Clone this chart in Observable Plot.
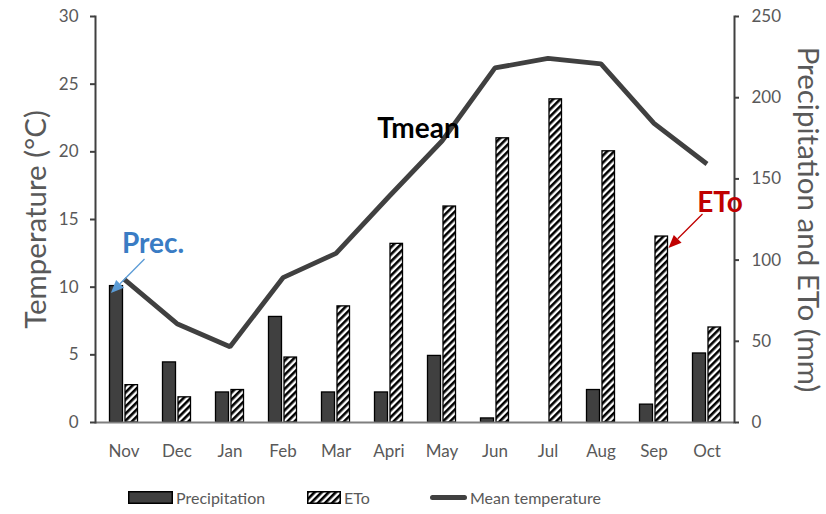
<!DOCTYPE html>
<html>
<head>
<meta charset="utf-8">
<script src="https://cdn.jsdelivr.net/npm/d3@7"></script>
<script src="https://cdn.jsdelivr.net/npm/@observablehq/plot@0.6"></script>
<style>
  html, body { margin: 0; padding: 0; background: #fff; }
  body { width: 826px; height: 514px; overflow: hidden; font-family: Lato, sans-serif; }
  #legend { position: relative; height: 44px; width: 826px; }
  #legend .item { position: absolute; top: 18px; display: flex; align-items: center; font-size: 16px; color: #595959; }
  #legend svg { display: block; margin-right: 3px; }
</style>
</head>
<body>
<div id="chart"></div>
<div id="legend">
  <div class="item" style="left:128px"><svg width="45" height="13"><rect x="0.75" y="0.75" width="43.5" height="11.5" fill="#404040" stroke="#000" stroke-width="1.5"/></svg>Precipitation</div>
  <div class="item" style="left:307px"><svg width="34" height="13"><defs><pattern id="hatchL" patternUnits="userSpaceOnUse" width="5" height="5" patternTransform="rotate(45)"><rect width="5" height="5" fill="#fff"/><rect width="2.6" height="5" fill="#000"/></pattern></defs><rect x="0.75" y="0.75" width="32.5" height="11.5" fill="url(#hatchL)" stroke="#000" stroke-width="1.5"/></svg>ETo</div>
  <div class="item" style="left:430px"><svg width="37" height="13"><line x1="2.5" y1="6.5" x2="34.5" y2="6.5" stroke="#404040" stroke-width="5" stroke-linecap="round"/></svg>Mean temperature</div>
</div>
<script>
const months = ["Nov","Dec","Jan","Feb","Mar","Apri","May","Jun","Jul","Aug","Sep","Oct"];
const tmean  = [10.6, 7.3, 5.6, 10.7, 12.5, 16.7, 20.8, 26.2, 26.9, 26.5, 22.1, 19.1];
const precip = [84, 37, 18.5, 65, 18.5, 18.5, 41, 2.5, 0, 20, 11, 42.5];
const eto    = [23, 15.5, 20, 40, 71.5, 110, 133, 175, 199, 167, 114.5, 58.5];
const tempTicks = [0, 5, 10, 15, 20, 25, 30];
const mmTicks = [0, 50, 100, 150, 200, 250];
const labels = [
  {text: "Prec.", month: "Nov", dx: 29, y: 13.2, color: "#3a7cc4"},
  {text: "Tmean", month: "May", dx: -23.5, y: 21.65, color: "#000000"},
  {text: "ETo", month: "Sep", dx: 66, y: 16.2, color: "#c00000"}
];
const arrows = [
  {month: "Nov", dx1: 21, y1: 12.05, dx2: -12.6, y2: 9.53, color: "#5b9bd5"},
  {month: "Sep", dx1: 49, y1: 15.37, dx2: 15, y2: 12.86, color: "#c00000"}
];

const MM_MAX = 250, T_MAX = 30;
const k = T_MAX / MM_MAX; // mm -> temperature axis units

const data = months.map((m, i) => ({month: m, t: tmean[i], p: precip[i] * k, e: eto[i] * k}));

const chart = Plot.plot({
  width: 826,
  height: 470,
  marginTop: 16,
  marginBottom: 48,
  marginLeft: 95,
  marginRight: 92,
  style: {fontFamily: "Lato, sans-serif", color: "#595959", background: "#fff"},
  x: {type: "band", domain: months, padding: 0, axis: null},
  y: {domain: [0, T_MAX], axis: null},
  marks: [
    Plot.barY(data, {x: "month", y: "p", fill: "#404040", stroke: "#000", strokeWidth: 1.3, insetLeft: 12.5, insetRight: 27.5}),
    Plot.barY(data, {x: "month", y: "e", fill: "url(#hatch)", stroke: "#000", strokeWidth: 1.3, insetLeft: 28, insetRight: 12.5}),
    Plot.ruleY([0], {stroke: "#7f7f7f", strokeWidth: 2}),
    Plot.frame({anchor: "left", stroke: "#404040", strokeWidth: 2}),
    Plot.frame({anchor: "right", stroke: "#404040", strokeWidth: 2}),
    Plot.line(data, {x: "month", y: "t", stroke: "#404040", strokeWidth: 4.8, strokeLinejoin: "miter", strokeLinecap: "butt"}),
    Plot.axisY(tempTicks, {anchor: "left", tickSize: 5, tickPadding: 12, fontSize: 17, stroke: "#404040", strokeWidth: 2, label: null}),
    Plot.axisY(mmTicks.map(v => v * k), {anchor: "right", tickSize: 4, tickPadding: 13, fontSize: 17, stroke: "#404040", strokeWidth: 2, tickFormat: d => Math.round(d / k), label: null}),
    Plot.axisX({tickSize: 0, tickPadding: 22, fontSize: 17, label: null}),
    Plot.text(["Temperature (°C)"], {frameAnchor: "left", rotate: -90, dx: -59, textAnchor: "middle", fontSize: 29.5, fill: "#595959"}),
    Plot.text(["Precipitation and ETo (mm)"], {frameAnchor: "right", rotate: 90, dx: 73, textAnchor: "middle", fontSize: 29.5, fill: "#595959"}),
    ...labels.map(l => Plot.text([l], {x: "month", y: "y", dx: l.dx, text: "text", fill: l.color, fontSize: 28, fontWeight: "bold"}))
  ]
});

document.getElementById("chart").appendChild(chart);
const svg = d3.select(chart);
svg.insert("defs", ":first-child").html(
  '<pattern id="hatch" patternUnits="userSpaceOnUse" width="5" height="5" patternTransform="rotate(45)">' +
  '<rect width="5" height="5" fill="#fff"/><rect width="2.6" height="5" fill="#000"/></pattern>'
);

const xs = chart.scale("x"), ys = chart.scale("y");
const cx = m => xs.apply(m) + xs.bandwidth / 2;

const g = svg.append("g");
arrows.forEach(a => {
  const x1 = cx(a.month) + a.dx1, y1 = ys.apply(a.y1);
  const x2 = cx(a.month) + a.dx2, y2 = ys.apply(a.y2);
  const ang = Math.atan2(y2 - y1, x2 - x1);
  const L = 13, W = 5.5;
  const bx = x2 - L * Math.cos(ang), by = y2 - L * Math.sin(ang);
  g.append("line").attr("x1", x1).attr("y1", y1).attr("x2", bx).attr("y2", by)
    .attr("stroke", a.color).attr("stroke-width", 1.3);
  g.append("polygon").attr("fill", a.color).attr("points", [
    [x2, y2],
    [bx + W * Math.sin(ang), by - W * Math.cos(ang)],
    [bx - W * Math.sin(ang), by + W * Math.cos(ang)]
  ].map(p => p.join(",")).join(" "));
});
</script>
</body>
</html>
